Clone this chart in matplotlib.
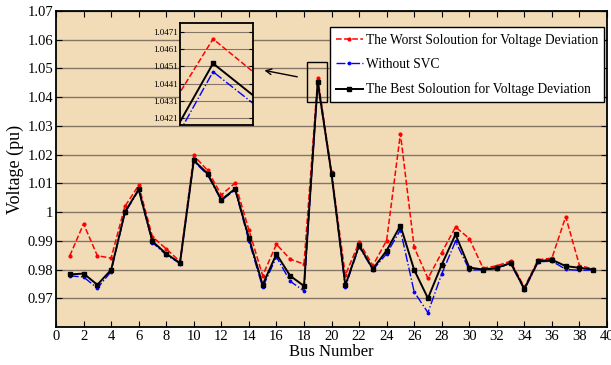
import numpy as np
import matplotlib
matplotlib.use('Agg')
import matplotlib.pyplot as plt
from matplotlib.patches import Rectangle

plt.rcParams['font.family'] = ['Liberation Serif', 'DejaVu Serif']

# bus voltages (pu)
bus = np.arange(1, 40)
worst = [0.9848, 0.9959, 0.9848, 0.9840, 1.0020, 1.0093, 0.9914, 0.9872, 0.9828, 1.0197,
         1.0145, 1.0060, 1.0101, 0.9938, 0.9779, 0.9888, 0.9836, 0.9819, 1.04668, 1.0138,
         0.9780, 0.9895, 0.9814, 0.9901, 1.0273, 0.9877, 0.9769, 0.9859, 0.9948, 0.9908,
         0.9805, 0.9813, 0.9829, 0.9738, 0.9834, 0.9840, 0.9984, 0.9814, 0.9802]
no_svc = [0.9778, 0.9774, 0.9735, 0.9793, 0.9997, 1.0076, 0.9894, 0.9851, 0.9821, 1.0177,
          1.0130, 1.0040, 1.0078, 0.9900, 0.9738, 0.9844, 0.9759, 0.9726, 1.04479, 1.0131,
          0.9739, 0.9880, 0.9799, 0.9855, 0.9938, 0.9722, 0.9650, 0.9785, 0.9898, 0.9799,
          0.9799, 0.9803, 0.9822, 0.9729, 0.9827, 0.9829, 0.9801, 0.9797, 0.9799]
best = [0.9783, 0.9786, 0.9747, 0.9799, 1.0000, 1.0079, 0.9898, 0.9855, 0.9823, 1.0180,
        1.0134, 1.0043, 1.0081, 0.9910, 0.9747, 0.9854, 0.9778, 0.9743, 1.04527, 1.0133,
        0.9745, 0.9884, 0.9802, 0.9866, 0.9953, 0.9799, 0.9700, 0.9817, 0.9922, 0.9807,
        0.9800, 0.9806, 0.9823, 0.9733, 0.9829, 0.9834, 0.9812, 0.9806, 0.9800]

labels = ['The Worst Soloution for Voltage Deviation', 'Without SVC',
          'The Best Soloution for Voltage Deviation']

bg = '#f2dcb8'
grid_c = '#857565'


def draw_lines(ax):
    ax.plot(bus, worst, 'r--', marker='.', markersize=4, lw=1.1, label=labels[0])
    ax.plot(bus, no_svc, 'b-.', marker='.', markersize=3.5, lw=1.0, label=labels[1])
    ax.plot(bus, best, 'k-', marker='s', markersize=2.5, lw=1.4, label=labels[2])


fig = plt.figure(figsize=(6.11, 3.65), dpi=100)
ax = fig.add_axes([0.0917, 0.1041, 0.9018, 0.8658])
ax.set_facecolor(bg)
draw_lines(ax)
ax.set_xlim(0, 40)
ax.set_ylim(0.96, 1.07)
ax.set_xticks(np.arange(0, 41, 2))
ax.set_yticks(np.arange(0.97, 1.0701, 0.01))
ax.set_yticklabels(['0.97', '0.98', '0.99', '1', '1.01', '1.02', '1.03', '1.04', '1.05', '1.06', '1.07'])
ax.yaxis.grid(True, color=grid_c, lw=1.0)
ax.set_axisbelow(True)
ax.tick_params(direction='in', top=True, right=True, labelsize=10.5, length=4, width=0.8, pad=2)
for s in ax.spines.values():
    s.set_linewidth(1.3)
ax.set_xlabel('Bus Number', fontsize=12, labelpad=1)
ax.set_ylabel('Voltage (pu)', fontsize=13)
ax.yaxis.set_label_coords(-0.058, 0.5)

leg = ax.legend(loc='upper right', bbox_to_anchor=(0.9946, 0.9503), borderaxespad=0,
                fontsize=9.75, fancybox=False, framealpha=1, edgecolor='black',
                handlelength=2.0, handletextpad=0.2, borderpad=0.45, labelspacing=0.85)
leg.get_frame().set_linewidth(1.0)

# zoom box around bus 19 and arrow to inset
ax.add_patch(Rectangle((18.24, 1.0382), 1.40, 0.0142, fill=False, ec='black', lw=1.0, zorder=5))
ax.annotate('', xy=(14.93, 1.0495), xytext=(17.71, 1.0469),
            arrowprops=dict(arrowstyle='->', color='black', lw=1.0))

ins = fig.add_axes([0.2951, 0.6575, 0.1185, 0.2786])
ins.set_facecolor(bg)
draw_lines(ins)
ins.set_xlim(18.953, 19.057)
ins.set_ylim(1.04172, 1.04758)
ins.set_xticks([])
ins.set_yticks([1.0421, 1.0431, 1.0441, 1.0451, 1.0461, 1.0471])
ins.set_yticklabels(['1.0421', '1.0431', '1.0441', '1.0451', '1.0461', '1.0471'])
ins.yaxis.grid(True, color=grid_c, lw=0.8)
ins.set_axisbelow(True)
ins.tick_params(direction='in', right=True, labelsize=6.5, length=3, pad=2)
for s in ins.spines.values():
    s.set_linewidth(1.3)

fig.savefig('out.png', dpi=100)
